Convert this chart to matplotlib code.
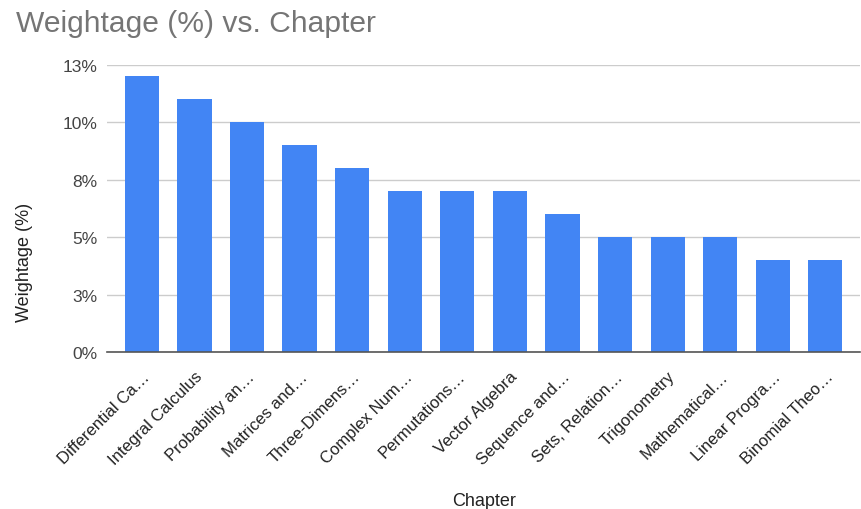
import matplotlib.pyplot as plt

chapters = [
    "Differential Ca…", "Integral Calculus", "Probability an…", "Matrices and…",
    "Three-Dimens…", "Complex Num…", "Permutations…", "Vector Algebra",
    "Sequence and…", "Sets, Relation…", "Trigonometry", "Mathematical…",
    "Linear Progra…", "Binomial Theo…",
]
weightage = [12, 11, 10, 9, 8, 7, 7, 7, 6, 5, 5, 5, 4, 4]

y_ticks = [0, 2.5, 5, 7.5, 10, 12.5]
y_tick_labels = ["0%", "3%", "5%", "8%", "10%", "13%"]

plt.rcParams['font.family'] = ['Liberation Sans', 'DejaVu Sans']

fig = plt.figure(figsize=(8.62, 5.10), dpi=100)
ax = fig.add_axes([0.124, 0.308, 0.874, 0.5626])

x = list(range(len(chapters)))
ax.bar(x, weightage, width=0.65, color='#4285F4', zorder=3)

ax.set_xlim(-0.665, len(chapters) - 0.335)
ax.set_ylim(0, 12.5)
ax.set_yticks(y_ticks)
ax.set_yticklabels(y_tick_labels, fontsize=12.5, color='#444444')
ax.set_xticks(x)
ax.set_xticklabels(chapters, rotation=45, ha='right', rotation_mode='anchor',
                   fontsize=12, color='#222222')
ax.tick_params(axis='both', length=0)
ax.tick_params(axis='y', pad=7)
ax.tick_params(axis='x', pad=12)

ax.grid(axis='y', color='#cccccc', linewidth=1, zorder=0)
for side in ['top', 'right', 'left']:
    ax.spines[side].set_visible(False)
ax.spines['bottom'].set_color('#555555')
ax.spines['bottom'].set_linewidth(1.2)
ax.spines['bottom'].set_zorder(4)

# axis titles placed in figure pixels, like the reference
fig.text(484 / 862, 1 - 502 / 510, "Chapter", fontsize=13, color='#222222',
         ha='center', va='center')
fig.text(25 / 862, 1 - 262 / 510, "Weightage (%)", fontsize=13, color='#222222',
         ha='center', va='center', rotation=90)

fig.text(0.018, 1 - 24 / 510, "Weightage (%) vs. Chapter", fontsize=21.6,
         color='#757575', va='center', ha='left')

fig.savefig("out.png", dpi=100)
